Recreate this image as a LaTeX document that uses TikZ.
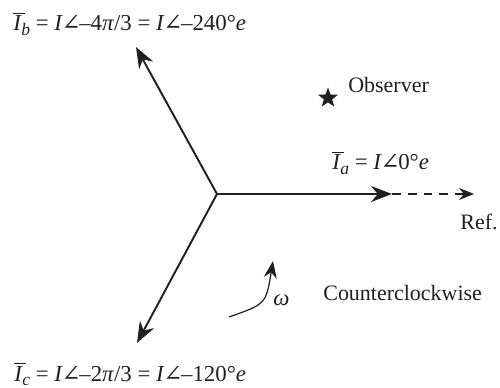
\documentclass[tikz,border=0pt]{standalone}
\usepackage{fontspec}
\setmainfont{Liberation Serif}
\newfontfamily\symfnt{DejaVu Serif}
\usepackage{tikz}
\usetikzlibrary{arrows.meta,positioning,shapes.geometric}
\definecolor{ink}{RGB}{35,31,32}
\tikzset{
  phasor/.style={-{Stealth[length=4.2mm,width=3.2mm]},line width=1.1pt,draw=ink},
  refline/.style={-{Stealth[length=3mm,width=2.4mm]},dashed,dash pattern=on 5pt off 4pt,line width=0.6pt,draw=ink},
  rotarr/.style={-{Stealth[length=3.4mm,width=2.6mm]},line width=0.7pt,draw=ink},
  lbl/.style={anchor=base west,inner sep=0pt,font=\fontsize{12.5}{14}\selectfont,text=ink},
  eqn/.style={lbl,font=\fontsize{13}{15}\selectfont},
  obs/.style={star,star points=5,star point ratio=2.4,fill=ink,inner sep=0pt,minimum size=4.2mm},
}
\newcommand{\phsr}[1]{$\overline{\mbox{\itshape I\,}}$\kern-0.15em\raisebox{-0.45ex}{\fontsize{10}{10}\selectfont\itshape #1}}
\newcommand{\ang}{\textit{I}\kern-0.06em{\symfnt ∠}\kern-0.06em}

\begin{document}
\begin{tikzpicture}[x=0.02cm,y=-0.02cm]
\useasboundingbox (0,0) rectangle (500,388);
% three phasors from the origin
\coordinate (o) at (217,194);
\coordinate (a) at (392,194);
\coordinate (b) at (136,47);
\coordinate (c) at (137,343);
\coordinate (ref) at (474,194);
\draw[phasor] (o)--(a);
\draw[phasor] (o)--(b);
\draw[phasor] (o)--(c);
\draw[refline] (a)--(ref);
% sense of rotation
\coordinate (w1) at (229,317);
\coordinate (w2) at (273,261);
\draw[rotarr] (w1) .. controls (266,304) .. (w2);
% labels
\node[eqn] (lb) at (13,31) {\phsr{b} = \ang–4\textit{π}/3 = \ang–240°\textit{e}};
\node[eqn] (lc) at (14,381) {\phsr{c} = \ang–2\textit{π}/3 = \ang–120°\textit{e}};
\node[eqn] (la) at (332,170) {\phsr{a} = \ang0°\textit{e}};
\node[obs] (star) at (328,98) {};
\node[lbl] (lobs) at (348,93) {Observer};
\node[lbl] (lref) at (460,230) {Ref.};
\node[lbl] (lccw) at (323,300) {Counterclockwise};
\node[eqn] (lw) at (273,305) {\textit{ω}};
\end{tikzpicture}
\end{document}
